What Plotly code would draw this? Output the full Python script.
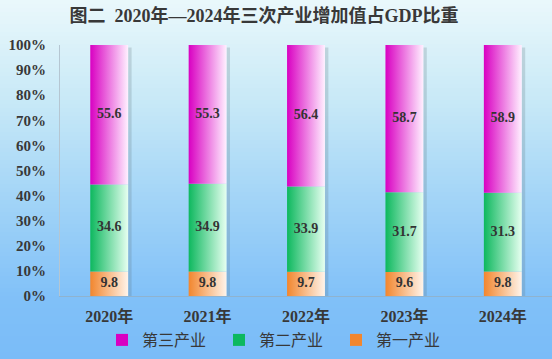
import plotly.graph_objects as go

years = ["2020年", "2021年", "2022年", "2023年", "2024年"]
tertiary = [55.6, 55.3, 56.4, 58.7, 58.9]
secondary = [34.6, 34.9, 33.9, 31.7, 31.3]
primary = [9.8, 9.8, 9.7, 9.6, 9.8]
y_ticks = [0, 10, 20, 30, 40, 50, 60, 70, 80, 90, 100]
y_tick_labels = [f"{v}%" for v in y_ticks]

series = [
    ("第一产业", primary, "#f2862e", "#fff4ea"),
    ("第二产业", secondary, "#0db85e", "#e6fff0"),
    ("第三产业", tertiary, "#d900c2", "#fff0ff"),
]

W, H = 552, 359
ML, MR, MT, MB = 60, 0, 45, 63
PH = H - MT - MB
BW = 0.385
SERIF = "Liberation Serif, Times New Roman, Noto Sans CJK SC"
CJK = "Noto Sans CJK SC"
TXT = "#383838"

fig = go.Figure()

def lerp(c1, c2, t):
    return tuple(int(round(a + (b - a) * t)) for a, b in zip(c1, c2))

stops = [(0, (234, 248, 251)), (100, (200, 233, 247)), (200, (162, 212, 247)), (300, (128, 192, 248)), (359, (122, 188, 248))]
shapes = []
step = 4
for py in range(0, H, step):
    mid = py + step / 2
    for (p0, c0), (p1, c1) in zip(stops[:-1], stops[1:]):
        if p0 <= mid <= p1:
            col = lerp(c0, c1, (mid - p0) / (p1 - p0))
            break
    y0 = (H - MB - (py + step + 0.5)) / PH
    y1 = (H - MB - py) / PH
    shapes.append(dict(type="rect", xref="paper", yref="paper", x0=-0.2, x1=1.1,
                       y0=y0, y1=y1, fillcolor="rgb(%d,%d,%d)" % col,
                       line=dict(width=0), layer="below"))

# bar shadows
sx, sy = [], []
for i in range(len(years)):
    x0 = i + BW / 2
    x1 = x0 + 0.035
    sx += [x0, x1, x1, x0, x0, None]
    sy += [-0.5, -0.5, 99.0, 99.0, -0.5, None]
fig.add_trace(go.Scatter(x=sx, y=sy, fill="toself", mode="none",
                         fillcolor="rgba(90,110,120,0.22)", showlegend=False, hoverinfo="skip"))

base = [0.0] * len(years)
for name, vals, dark, light in series:
    for i, v in enumerate(vals):
        b = base[i]
        x0, x1 = i - BW / 2, i + BW / 2
        fig.add_trace(go.Scatter(
            x=[x0, x1, x1, x0, x0], y=[b, b, b + v, b + v, b],
            fill="toself", mode="none", name=name, legendgroup=name,
            showlegend=False,
            fillgradient=dict(type="horizontal", colorscale=[[0, dark], [1, light]]),
            hoverinfo="skip"))
    base = [b + v for b, v in zip(base, vals)]

# labels
base = [0.0] * len(years)
for name, vals, dark, light in series:
    fig.add_trace(go.Scatter(
        x=list(range(len(years))), y=[b + v / 2 for b, v in zip(base, vals)],
        mode="text", text=[f"{v:.1f}" for v in vals],
        textfont=dict(family=SERIF, size=14, color="#333333", weight="bold"),
        showlegend=False, hoverinfo="skip"))
    base = [b + v for b, v in zip(base, vals)]

# legend entries
for name, vals, dark, light in reversed(series):
    fig.add_trace(go.Bar(x=[None], y=[None], name=name, marker=dict(color=dark, line=dict(width=0))))

fig.update_layout(
    width=W, height=H,
    margin=dict(l=ML, r=MR, t=MT, b=MB, autoexpand=False),
    paper_bgcolor="rgb(170,215,247)",
    plot_bgcolor="rgba(0,0,0,0)",
    shapes=shapes,
    title=dict(text="图二  2020年—2024年三次产业增加值占GDP比重", x=264 / W, xref="container", xanchor="center",
               y=1 - 16 / H, yanchor="middle",
               font=dict(family=SERIF, size=18, color=TXT, weight="bold")),
    xaxis=dict(range=[-0.5, 4.5], tickvals=list(range(len(years))), ticktext=years,
               showgrid=False, zeroline=False, showline=True, linecolor="#8fb3cf", linewidth=1,
               ticks="", ticklabelstandoff=6,
               tickfont=dict(family=SERIF, size=16, color=TXT, weight="bold"), fixedrange=True),
    yaxis=dict(range=[0, 100], tickvals=y_ticks, ticktext=y_tick_labels,
               showgrid=False, zeroline=False, showline=True, linecolor="#b5c6d2", linewidth=1,
               ticks="", ticklabelstandoff=10,
               tickfont=dict(family=SERIF, size=15, color=TXT, weight="bold"), fixedrange=True),
    legend=dict(orientation="h", x=(102 - ML) / (W - ML - MR), xanchor="left",
                y=(H - MB - 340) / PH, yanchor="middle",
                font=dict(family=CJK, size=16, color=TXT),
                itemwidth=30, entrywidth=72, entrywidthmode="pixels",
                bgcolor="rgba(0,0,0,0)", traceorder="normal"),
    showlegend=True,
    barmode="overlay",
)

fig.write_html("out.html", config={"displayModeBar": False},
               post_script="document.body.style.margin='0';document.body.style.overflow='hidden';")
